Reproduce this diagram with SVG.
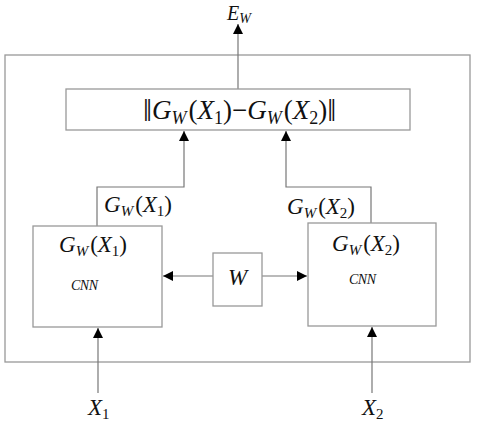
<svg xmlns="http://www.w3.org/2000/svg" width="480" height="426" viewBox="0 0 480 426">
<style>
.box{fill:#fff;stroke:#999;stroke-width:1.3}
.ln{fill:none;stroke:#777;stroke-width:1.2}
.m{font-family:"Liberation Serif","Times New Roman",serif;fill:#111}
.i{font-style:italic}
.cnn{font-family:"Liberation Serif","Times New Roman",serif;font-style:italic;font-size:14px;fill:#111;letter-spacing:-0.5px}
</style>
<defs>
<marker id="ah" viewBox="0 0 10 10" refX="10" refY="5" markerWidth="10" markerHeight="10" markerUnits="userSpaceOnUse" orient="auto">
<path d="M0,0 L10,5 L0,10 z" fill="#000"/>
</marker>
</defs>
<rect width="480" height="426" fill="#fff"/>
<g id="frame"><rect class="box" x="5" y="55" width="465" height="307" fill="none"/></g>
<g id="connectors">
<line class="ln" x1="238" y1="89" x2="238" y2="24" marker-end="url(#ah)"/>
<polyline class="ln" points="97,226 97,187 184,187 184,131" marker-end="url(#ah)"/>
<polyline class="ln" points="371,223 371,187 286,187 286,131" marker-end="url(#ah)"/>
<line class="ln" x1="213" y1="276" x2="163" y2="276" marker-end="url(#ah)"/>
<line class="ln" x1="262" y1="276" x2="307" y2="276" marker-end="url(#ah)"/>
<line class="ln" x1="98" y1="393" x2="98" y2="328" marker-end="url(#ah)"/>
<line class="ln" x1="372" y1="393" x2="372" y2="327" marker-end="url(#ah)"/>
</g>
<g id="top">
<rect class="box" x="66" y="89" width="344" height="41"/>
<text class="m" x="143" y="119" font-size="27"><tspan font-size="32" dy="2">‖</tspan><tspan class="i" dy="-2">G</tspan><tspan class="i" font-size="18" dy="5">W</tspan><tspan dy="-5" dx="2">(</tspan><tspan class="i">X</tspan><tspan font-size="18" dy="5">1</tspan><tspan dy="-5">)−</tspan><tspan class="i">G</tspan><tspan class="i" font-size="18" dy="5">W</tspan><tspan dy="-5" dx="2">(</tspan><tspan class="i">X</tspan><tspan font-size="18" dy="5">2</tspan><tspan dy="-5">)</tspan><tspan font-size="32" dy="2">‖</tspan></text>
</g>
<g id="ew">
<text class="m" x="227" y="20" font-size="20"><tspan class="i">E</tspan><tspan class="i" font-size="14" dy="3">W</tspan></text>
</g>
<g id="lbl1">
<text class="m" x="104" y="212" font-size="23"><tspan class="i">G</tspan><tspan class="i" font-size="15" dy="4">W</tspan><tspan dy="-4" dx="2">(</tspan><tspan class="i">X</tspan><tspan font-size="15" dy="4">1</tspan><tspan dy="-4">)</tspan></text>
</g>
<g id="lbl2">
<text class="m" x="287" y="214" font-size="23"><tspan class="i">G</tspan><tspan class="i" font-size="15" dy="4">W</tspan><tspan dy="-4" dx="2">(</tspan><tspan class="i">X</tspan><tspan font-size="15" dy="4">2</tspan><tspan dy="-4">)</tspan></text>
</g>
<g id="cnn1">
<rect class="box" x="33" y="226" width="129" height="101"/>
<text class="m" x="59" y="252" font-size="23"><tspan class="i">G</tspan><tspan class="i" font-size="15" dy="4">W</tspan><tspan dy="-4" dx="2">(</tspan><tspan class="i">X</tspan><tspan font-size="15" dy="4">1</tspan><tspan dy="-4">)</tspan></text>
<text class="cnn" x="71" y="290">CNN</text>
</g>
<g id="cnn2">
<rect class="box" x="308" y="223" width="128" height="103"/>
<text class="m" x="332" y="251" font-size="23"><tspan class="i">G</tspan><tspan class="i" font-size="15" dy="4">W</tspan><tspan dy="-4" dx="2">(</tspan><tspan class="i">X</tspan><tspan font-size="15" dy="4">2</tspan><tspan dy="-4">)</tspan></text>
<text class="cnn" x="349" y="284">CNN</text>
</g>
<g id="w">
<rect class="box" x="213" y="253" width="49" height="53"/>
<text class="m i" x="237.5" y="285" font-size="23" text-anchor="middle">W</text>
</g>
<g id="x1">
<text class="m" x="88" y="415" font-size="23"><tspan class="i">X</tspan><tspan font-size="15" dy="4">1</tspan></text>
</g>
<g id="x2">
<text class="m" x="362" y="415" font-size="23"><tspan class="i">X</tspan><tspan font-size="15" dy="4">2</tspan></text>
</g>
</svg>
